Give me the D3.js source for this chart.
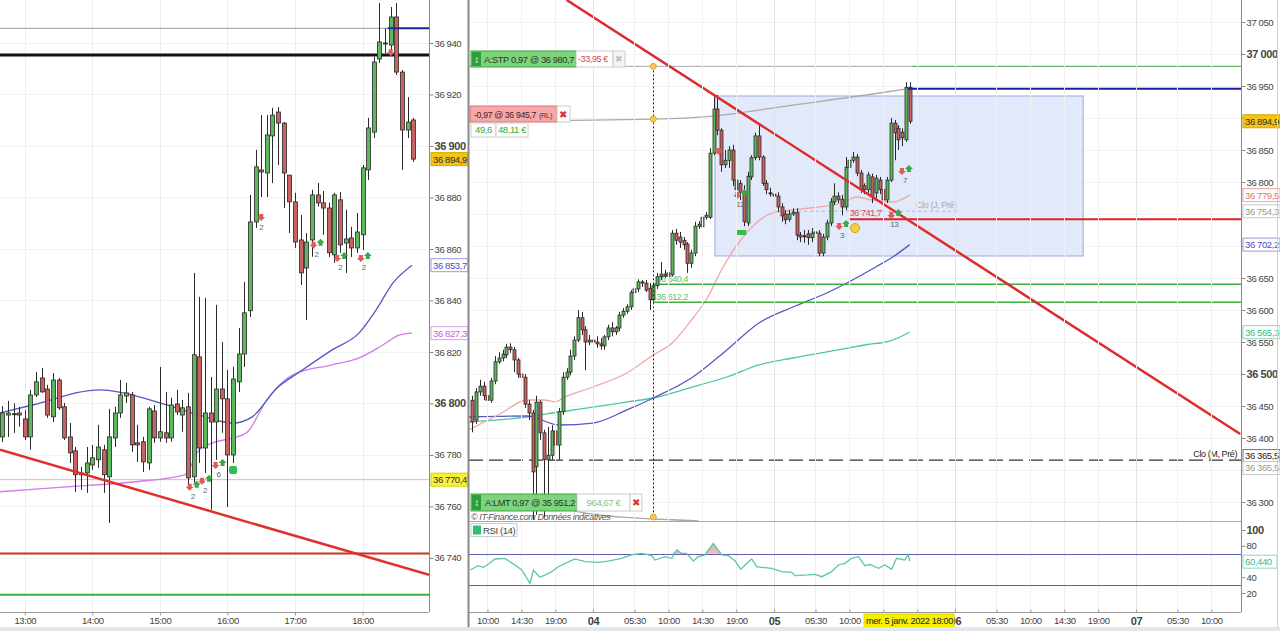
<!DOCTYPE html>
<html><head><meta charset="utf-8">
<script src="https://cdn.jsdelivr.net/npm/d3@7"></script>
<style>
body{margin:0;background:#fff;overflow:hidden;}
svg text{font-family:"Liberation Sans",Arial,sans-serif;letter-spacing:-0.4px;}
</style></head><body>
<svg id="c" width="1280" height="631"></svg>
<script>
// ---------------- LEFT PANEL DATA (5-min candles, 5 janv.) ----------------
const leftStart = "12:40";
const leftStepMin = 5;
const leftOpen  = [36787.0,36795.5,36796.0,36796.3,36794.0,36787.0,36803.3,36809.9,36805.6,36794.8,36809.1,36798.7,36787.0,36781.6,36773.0,36773.0,36776.1,36778.1,36782.0,36771.5,36786.6,36796.3,36802.9,36803.3,36784.7,36785.1,36776.9,36797.1,36786.6,36788.6,36786.6,36799.8,36795.5,36798.7,36771.5,36818.1,36782.7,36796.3,36792.8,36805.6,36801.8,36780.0,36808.4,36819.2,36836.0,36870.5,36890.7,36889.5,36903.9,36913.2,36908.9,36888.7,36878.3,36863.5,36852.6,36863.5,36881.0,36877.9,36875.9,36857.7,36879.1,36862.3,36864.3,36860.4,36865.5,36890.7,36905.4,36933.8,36940.0,36939.2,36950.1,36928.7,36906.2,36910.1];
const leftHigh  = [36799.0,36801.0,36800.0,36798.7,36797.5,36805.3,36812.2,36813.8,36807.2,36811.8,36809.9,36800.2,36792.4,36783.1,36775.4,36783.1,36783.9,36791.7,36783.9,36797.9,36798.7,36809.1,36808.0,36804.5,36791.7,36787.0,36798.7,36799.4,36814.2,36804.5,36802.2,36805.3,36801.4,36804.1,36850.7,36841.4,36841.0,36810.3,36838.3,36823.9,36813.0,36814.2,36829.3,36847.2,36881.0,36898.5,36912.0,36912.0,36914.8,36915.1,36909.3,36888.7,36881.8,36873.2,36866.2,36883.0,36885.6,36882.5,36877.9,36881.8,36882.1,36875.2,36868.6,36874.0,36892.6,36910.9,36934.6,36955.5,36945.8,36954.0,36955.5,36929.5,36919.0,36910.9];
const leftLow   = [36785.0,36787.0,36788.6,36791.0,36785.8,36782.0,36802.5,36804.1,36794.4,36792.8,36797.5,36785.8,36776.9,36765.6,36766.4,36765.3,36774.2,36775.0,36765.3,36753.6,36783.1,36794.4,36800.2,36781.2,36777.3,36773.4,36774.2,36784.7,36785.1,36784.7,36785.1,36795.5,36789.0,36767.6,36769.2,36776.9,36773.0,36758.7,36778.1,36788.6,36759.8,36776.9,36804.5,36814.2,36833.6,36868.2,36880.2,36880.2,36885.6,36892.6,36875.9,36866.2,36860.4,36846.0,36832.4,36857.0,36876.5,36865.5,36856.9,36854.6,36858.5,36850.7,36856.9,36858.5,36859.6,36886.8,36903.1,36932.2,36936.1,36935.3,36927.6,36890.7,36903.1,36893.8];
const leftClose = [36796.3,36796.3,36796.0,36795.5,36787.0,36803.3,36808.4,36804.5,36795.5,36809.1,36798.3,36786.6,36780.8,36772.3,36772.3,36776.9,36778.9,36783.1,36772.3,36787.0,36796.3,36803.3,36804.1,36783.9,36783.9,36777.3,36797.9,36786.6,36789.0,36786.6,36799.4,36796.7,36798.3,36771.1,36818.9,36782.7,36796.3,36792.8,36805.6,36801.8,36780.0,36809.5,36819.2,36835.2,36870.5,36891.9,36889.9,36904.3,36912.0,36908.9,36889.5,36878.3,36862.7,36850.7,36862.7,36881.0,36877.9,36875.9,36858.5,36881.0,36861.6,36863.9,36860.4,36866.6,36891.5,36907.0,36932.6,36940.4,36940.0,36950.1,36928.7,36906.2,36909.3,36894.9];
// moving averages (left)
const leftMaBlueT = ["12:38","13:07","14:07","14:27","15:06","15:35","16:05","16:22","16:44","17:04","17:33","17:57","18:12","18:27","18:44"];
const leftMaBlueV = [36796.3,36799.4,36805.3,36804.1,36799.4,36795.5,36792.4,36794.8,36806.0,36812.2,36820.8,36827.4,36836.3,36846.8,36853.7];
const leftMaVioT  = ["12:38","13:37","14:36","15:22","15:35","15:47","16:05","16:17","16:35","16:58","17:33","17:57","18:18","18:33","18:44"];
const leftMaVioV  = [36765.7,36767.6,36769.5,36772.3,36782.0,36784.7,36786.6,36788.6,36801.4,36811.1,36815.0,36817.7,36822.7,36826.6,36827.3];
const leftTicks = [36740,36760,36780,36800,36820,36840,36860,36880,36900,36920,36940];
const leftHours = ["13:00","14:00","15:00","16:00","17:00","18:00"];

// ---------------- RIGHT PANEL DATA (30-min candles, 3-5 janv.) ----------------
const rightStart = [2022,0,3,8,0];
const rightStepMin = 30;
const rOpen  = [36459,36428,36472,36481,36466,36459,36489,36519,36525,36530,36542,36538,36522,36500,36495,36453,36439,36355,36456,36408,36366,36373,36411,36389,36441,36495,36503,36528,36553,36588,36569,36550,36553,36550,36547,36544,36558,36572,36566,36572,36592,36598,36605,36627,36633,36644,36642,36634,36616,36638,36652,36656,36653,36655,36720,36714,36709,36703,36673,36689,36731,36730,36745,36745,36845,36914,36881,36827,36834,36850,36803,36798,36784,36736,36808,36838,36872,36839,36798,36783,36781,36778,36761,36750,36742,36750,36752,36717,36716,36719,36713,36720,36720,36689,36714,36736,36769,36778,36773,36761,36823,36834,36839,36814,36794,36788,36808,36783,36803,36788,36772,36803,36892,36884,36878,36866,36948];
const rHigh  = [36466,36478,36491,36488,36472,36494,36528,36534,36538,36547,36548,36542,36525,36505,36500,36459,36444,36466,36459,36413,36417,36420,36416,36447,36503,36509,36538,36559,36600,36597,36575,36561,36572,36559,36556,36561,36577,36581,36575,36597,36603,36609,36631,36636,36648,36647,36647,36642,36641,36658,36675,36663,36663,36725,36727,36722,36714,36706,36694,36738,36739,36750,36753,36853,36933,36936,36884,36850,36856,36858,36811,36803,36795,36816,36842,36877,36892,36842,36803,36791,36788,36784,36767,36756,36756,36759,36759,36722,36725,36725,36728,36728,36725,36719,36741,36775,36798,36784,36780,36839,36850,36847,36844,36819,36798,36816,36813,36811,36808,36794,36808,36900,36897,36889,36884,36956,36956];
const rLow   = [36409,36422,36466,36459,36413,36455,36484,36516,36520,36525,36533,36503,36494,36475,36447,36428,36272,36280,36397,36276,36305,36366,36378,36366,36436,36491,36498,36522,36550,36561,36506,36545,36544,36541,36538,36538,36553,36559,36561,36567,36588,36594,36600,36622,36628,36636,36628,36600,36613,36633,36647,36650,36648,36652,36702,36697,36694,36658,36666,36684,36727,36725,36741,36742,36842,36873,36816,36822,36822,36794,36772,36772,36731,36731,36803,36834,36834,36794,36781,36777,36772,36753,36738,36734,36738,36747,36709,36706,36705,36702,36706,36713,36684,36684,36709,36731,36764,36767,36748,36756,36819,36830,36809,36783,36781,36783,36767,36775,36781,36766,36767,36800,36834,36850,36856,36863,36891];
const rClose = [36425,36472,36481,36466,36459,36489,36519,36525,36531,36542,36538,36522,36500,36495,36453,36439,36347,36456,36408,36366,36373,36411,36389,36441,36495,36503,36528,36553,36588,36569,36550,36553,36550,36547,36544,36558,36572,36566,36572,36592,36598,36605,36627,36633,36644,36642,36631,36616,36638,36652,36656,36653,36658,36720,36709,36706,36702,36673,36689,36731,36734,36745,36748,36845,36914,36881,36827,36834,36850,36803,36788,36784,36738,36809,36838,36872,36839,36798,36788,36783,36778,36761,36747,36741,36750,36753,36717,36714,36716,36713,36720,36722,36689,36714,36736,36769,36778,36772,36761,36823,36834,36839,36814,36788,36788,36811,36777,36806,36788,36772,36803,36892,36877,36866,36869,36948,36894.9];
// moving averages (right), position in candle index units
const rMaPinkI = [-1,7.3,14.5,19,22,24,32,41,48,53,58.5,62,66.5,71.8,79.7,89.5,98,102,106,111.5,116];
const rMaPinkV = [36412.5,36437.5,36459.4,36459.4,36456.3,36462.5,36479.7,36501.6,36529.7,36548.4,36587.5,36615.6,36667.2,36714.1,36751.6,36759.4,36767.2,36776.6,36771.9,36768.8,36779.5];
const rMaBlueI = [-1,14.5,23,32,41,48,58.5,67.5,76,85,94,107,111.5,116];
const rMaBlueV = [36432.8,36434.4,36420.3,36423.4,36443.8,36462.5,36495.3,36537.5,36579.7,36604.7,36626.6,36667.2,36682.8,36702.2];
const rMaTealI = [-1,14.5,23,32,41,48,58.5,67.5,76,85,94,104,111.5,116];
const rMaTealV = [36425.0,36432.8,36440.6,36448.4,36456.3,36462.5,36479.7,36495.3,36514.1,36525.0,36534.4,36545.3,36553.1,36565.3];
const rGrayTopI = [-1,48.2,63.8,85,108,116.6];
const rGrayTopV = [36895.3,36898.4,36903.1,36920.3,36939.1,36946.9];
const rGrayLowI = [22,25.9,39,48.2,60];
const rGrayLowV = [36300,36287.5,36276.6,36273.4,36270.5];
// RSI(14)
const rsiI = [-0.6,1.6,2.9,4.2,6.0,8.6,11.3,13.1,15.3,16.2,17.9,19.3,21.0,22.8,24.6,27.2,29.9,33.4,36.0,39.6,42.2,44.9,47.6,48.4,51.1,52.9,54.2,55.5,56.8,58.6,59.9,61.7,63.9,65.2,66.1,67.9,69.7,71.2,72.8,74.1,75.4,77.6,79.4,82.0,84.7,85.6,89.1,90.9,92.7,95.3,97.1,98.8,100.6,102.4,104.1,105.5,107.7,109.4,111.2,112.5,114.7,115.6,116];
const rsiV = [49.2,54.7,52.6,56.4,63.2,64.0,55.6,49.2,32.3,49.2,39.9,42.9,47.1,53.4,57.7,63.2,59.8,58.9,60.6,64.0,68.3,70.4,67.4,61.9,66.1,64.0,74.6,70.4,70.4,60.6,66.1,68.3,83.1,74.6,68.3,67.4,60.6,50.1,57.7,63.2,53.4,52.2,51.3,47.1,46.2,42.0,42.9,43.7,40.7,47.1,55.6,57.7,64.0,66.1,54.7,56.4,51.3,55.6,50.1,64.0,61.9,69.1,60.44];
const rightTicks = [36300,36350,36400,36450,36500,36550,36600,36650,36700,36750,36800,36850,36900,36950,37000,37050];
const rightTicksHidden = [36350,36700,36750,36900];
const rsiTicks = [20,40,80,100];
// levels
const posPrice = 36945.7, stopPrice = 36980.7, limitPrice = 35951.2;
const supportBlack = 36935.3, entryRed = 36741.7, lineGreenL = 36725.7, lineSalmon = 36770.4;
const greenLvl1 = 36640.4, greenLvl2 = 36612.2, cloM = 36365.5, cloJ = 36754.3;

// ---------------- SETUP ----------------
const svg = d3.select('#c');
const loc = d3.formatLocale({decimal:",", thousands:" ", grouping:[3], currency:["","€"]});
const f0 = loc.format(",.0f");
const GREEN = '#5cb85c', RED = '#c9625f', EDGE = '#2a2a2a';
const FS = 9.5;

const tL = s => { const [h,m] = s.split(':').map(Number); return new Date(2022,0,5,h,m); };
const lStart = tL(leftStart);
const leftTimes = leftOpen.map((d,i) => new Date(+lStart + i*leftStepMin*60000));
const rS = new Date(...rightStart);
const tR = i => new Date(+rS + i*rightStepMin*60000);
const rightTimes = rOpen.map((d,i) => tR(i));

const xL = d3.scaleTime().domain([tL("12:38"), tL("18:59")]).range([0, 429]);
const yL = d3.scaleLinear().domain([36719.0, 36956.7]).range([612, 0]);
const xR = d3.scaleTime().domain([new Date(2022,0,3,7,30), new Date(2022,0,7,14,0)]).range([468.6, 1241.5]);
const yR = d3.scaleLinear().domain([36270.3, 37084.4]).range([521, 0]);
const yS = d3.scaleLinear().domain([0,100]).range([608.75, 530]);

const defs = svg.append('defs');
defs.append('clipPath').attr('id','clipL').append('rect').attr('x',0).attr('y',0).attr('width',429).attr('height',612);
defs.append('clipPath').attr('id','clipR').append('rect').attr('x',469).attr('y',0).attr('width',772).attr('height',521);
defs.append('clipPath').attr('id','clipS').append('rect').attr('x',469).attr('y',522).attr('width',772).attr('height',90);

function fit(t, maxW){
  const w = t.node().getComputedTextLength();
  if (w > maxW) t.attr('textLength', maxW).attr('lengthAdjust','spacingAndGlyphs');
  return t;
}
function hline(g, y, x1, x2, col, w, dash){
  const l = g.append('line').attr('x1',x1).attr('x2',x2).attr('y1',y).attr('y2',y).attr('stroke',col).attr('stroke-width',w);
  if (dash) l.attr('stroke-dasharray',dash);
  return l;
}
function candles(g, xs, ys, times, O,H,Lo,C, w){
  times.forEach((t,i)=>{
    const x = Math.round(xs(t)) + 0.5;
    g.append('line').attr('x1',x).attr('x2',x).attr('y1',ys(H[i])).attr('y2',ys(Lo[i])).attr('stroke',EDGE).attr('stroke-width',1);
    const top = ys(Math.max(O[i],C[i])), bot = ys(Math.min(O[i],C[i]));
    const col = C[i]>O[i] ? GREEN : (C[i]<O[i] ? RED : EDGE);
    g.append('rect').attr('x',x-w/2).attr('y',top).attr('width',w).attr('height',Math.max(1,bot-top))
      .attr('fill',col).attr('stroke',EDGE).attr('stroke-width',0.8);
  });
}
function box(g, x, yc, w, h, fill, stroke, txt, col, size, weight, anchor){
  g.append('rect').attr('x',x).attr('y',yc-h/2).attr('width',w).attr('height',h).attr('fill',fill).attr('stroke',stroke).attr('stroke-width',1);
  const s = size||FS;
  const t = g.append('text').attr('y',yc+ s*0.36).attr('fill',col).attr('font-size',s).attr('font-weight',weight||'normal').text(txt);
  if (anchor==='middle') t.attr('x',x+w/2).attr('text-anchor','middle'); else t.attr('x',x+2);
  fit(t, w-3);
  return t;
}
function arrowPair(g, x, y, num){
  g.append('path').attr('d',`M${x-6},${y-3}h4v3h2l-4,4l-4,-4h2z`).attr('fill','#e05a5a');
  g.append('path').attr('d',`M${x+1},${y+1}h4v-3h2l-4,-4l-4,4h2z`).attr('fill','#3aa845');
  if (num) g.append('text').attr('x',x-1).attr('y',y+12).attr('text-anchor','middle').attr('font-size',8).attr('fill','#666').text(num);
}
function redArrow(g, x, y){ g.append('path').attr('d',`M${x-2},${y-4}h4v3h2l-4,4l-4,-4h2z`).attr('fill','#e05a5a'); }
function styleY(gAx, boldTest){
  gAx.selectAll('.tick line').attr('stroke','#888');
  gAx.selectAll('.tick text').attr('x',5).attr('fill','#444')
    .attr('font-weight',d=>boldTest(d)?'bold':'normal').style('font-size',d=>boldTest(d)?'11px':FS+'px');
}

// ---------------- LEFT PANEL ----------------
const gL = svg.append('g');
const gLc = gL.append('g').attr('clip-path','url(#clipL)');
leftHours.forEach(h => gLc.append('line').attr('x1',Math.round(xL(tL(h)))+0.5).attr('x2',Math.round(xL(tL(h)))+0.5).attr('y1',0).attr('y2',612).attr('stroke','#eeeeee'));
leftTicks.forEach(v => hline(gLc, Math.round(yL(v))+0.5, 0, 429, '#f2f2f2', 1));
hline(gLc, yL(posPrice), 0, 429, '#999', 1);
hline(gLc, yL(lineSalmon), 0, 429, '#f3b0aa', 1);
hline(gLc, yL(supportBlack), 0, 429, '#111', 3);
hline(gLc, yL(entryRed), 0, 429, '#c8321e', 2);
hline(gLc, yL(lineGreenL), 0, 429, '#3cae3c', 2);
const lineL = d3.line().x(d=>d[0]).y(d=>d[1]).curve(d3.curveMonotoneX);
gLc.append('path').attr('d', lineL(leftMaVioT.map((t,i)=>[xL(tL(t)), yL(leftMaVioV[i])]))).attr('fill','none').attr('stroke','#d27ae8').attr('stroke-width',1.3);
gLc.append('path').attr('d', lineL(leftMaBlueT.map((t,i)=>[xL(tL(t)), yL(leftMaBlueV[i])]))).attr('fill','none').attr('stroke','#5656c8').attr('stroke-width',1.3);
candles(gLc, xL, yL, leftTimes, leftOpen, leftHigh, leftLow, leftClose, 4);
hline(gLc, yL(posPrice), xL(tL("18:25"))-3, 429, '#2323a8', 2);
gLc.append('line').attr('x1',xL(tL("12:38"))).attr('y1',yL(36782.0)).attr('x2',xL(tL("18:59"))).attr('y2',yL(36733.4)).attr('stroke','#e0302a').attr('stroke-width',2.5);
redArrow(gLc, xL(tL("16:30")), yL(36872.0)); gLc.append('text').attr('x',xL(tL("16:30"))).attr('y',yL(36872.0)+12).attr('text-anchor','middle').attr('font-size',8).attr('fill','#666').text('2');
arrowPair(gLc, xL(tL("17:20")), yL(36861.6), '2');
arrowPair(gLc, xL(tL("17:41")), yL(36856.5), '2');
arrowPair(gLc, xL(tL("18:02")), yL(36856.5), '2');
arrowPair(gLc, xL(tL("15:30")), yL(36767.6), '2');
arrowPair(gLc, xL(tL("15:41")), yL(36770.0), '2');
arrowPair(gLc, xL(tL("15:53")), yL(36776.1), '6');
gLc.append('rect').attr('x',xL(tL("16:05"))-4).attr('y',yL(36774.2)-4).attr('width',8).attr('height',8).attr('rx',2).attr('fill','#2fbf4f');
redArrow(gLc, xL(tL("18:25")), yL(36936));

const gAxL = gL.append('g').attr('transform','translate(429.5,0)').call(d3.axisRight(yL).tickValues(leftTicks).tickSize(4).tickFormat(f0));
gAxL.select('.domain').attr('stroke','#888').attr('d','M0,0V612');
styleY(gAxL, d=>d%100===0);
const gAxLB = gL.append('g').attr('transform','translate(0,612.5)').call(d3.axisBottom(xL).tickValues(leftHours.map(tL)).tickSize(3).tickFormat(d3.timeFormat('%H:%M')));
gAxLB.select('.domain').attr('stroke','#999').attr('d','M0,0H429');
gAxLB.selectAll('.tick line').attr('stroke','#999');
gAxLB.selectAll('.tick text').attr('fill','#444').style('font-size',FS+'px').attr('dy','0.55em');
box(gL, 431, yL(36894.9), 37, 13, '#f2c416', '#d9a800', '36 894,9', '#333');
box(gL, 431, yL(36853.7), 37, 13, '#fff', '#9a9ae0', '36 853,7', '#4a4ad0');
box(gL, 431, yL(36827.3), 37, 13, '#fff', '#dba0ee', '36 827,3', '#c060e0');
box(gL, 431, yL(36770.4), 37, 13, '#f6f23a', '#d8d000', '36 770,4', '#333');

// ---------------- RIGHT PANEL ----------------
const gR = svg.append('g');
const gRc = gR.append('g').attr('clip-path','url(#clipR)');
const xTicks = [];
for (let d=3; d<=7; d++) [[0,0],[5,30],[10,0],[14,30],[19,0]].forEach(([h,m])=>{
  const t = new Date(2022,0,d,h,m); if (t>=xR.domain()[0] && t<=xR.domain()[1]) xTicks.push(t); });
xTicks.forEach(t=>{ const x=Math.round(xR(t))+0.5;
  gR.append('line').attr('x1',x).attr('x2',x).attr('y1',0).attr('y2',612).attr('stroke', t.getHours()===0?'#e4e4e4':'#f0f0f0'); });
rightTicks.forEach(v => hline(gRc, Math.round(yR(v))+0.5, 469, 1241, '#f2f2f2', 1));
const zoneT0 = new Date(2022,0,4,16,10), zoneT1 = new Date(2022,0,6,17,0);
gRc.append('rect').attr('x',xR(zoneT0)).attr('y',yR(36934.4))
  .attr('width',xR(zoneT1)-xR(zoneT0)).attr('height',yR(36684.4)-yR(36934.4))
  .attr('fill','#e2e9fb').attr('stroke','#97acd9').attr('stroke-width',1);
hline(gRc, yR(stopPrice), 469, xR(tR(116.5)), '#a8a8a8', 1);
hline(gRc, yR(stopPrice), xR(tR(116.5)), 1241, '#4aa24a', 1);
hline(gRc, yR(cloM), 469, 1241, '#333', 1.3, '14,6');
hline(gRc, yR(cloJ), xR(new Date(2022,0,5,0,0)), xR(new Date(2022,0,6,0,30)), '#b8b8b8', 1, '3,3');
const lineR = d3.line().x(d=>d[0]).y(d=>d[1]).curve(d3.curveMonotoneX);
const pathR = (I,V,col) => gRc.append('path').attr('d', lineR(I.map((i,k)=>[xR(tR(i)), yR(V[k])]))).attr('fill','none').attr('stroke',col).attr('stroke-width',1.3);
pathR(rGrayTopI, rGrayTopV, '#aaa');
pathR(rGrayLowI, rGrayLowV, '#aaa');
pathR(rMaTealI, rMaTealV, '#4cc79e');
pathR(rMaBlueI, rMaBlueV, '#5858c4');
pathR(rMaPinkI, rMaPinkV, '#f2a8a4');
const tG = new Date(2022,0,4,8,0);
hline(gRc, yR(greenLvl1), xR(tG), 1241, '#3cae3c', 1.5);
hline(gRc, yR(greenLvl2), xR(tG), 1241, '#3cae3c', 1.5);
gRc.append('text').attr('x',xR(tG)+3).attr('y',yR(greenLvl1)-2).attr('font-size',9).attr('fill','#5cc45c').text('36 640,4');
gRc.append('text').attr('x',xR(tG)+3).attr('y',yR(greenLvl2)-2).attr('font-size',9).attr('fill','#5cc45c').text('36 612,2');
candles(gRc, xR, yR, rightTimes, rOpen, rHigh, rLow, rClose, 3);
hline(gRc, yR(posPrice), xR(tR(116))-2, 1241, '#1c1ca6', 2);
const tEntry = new Date(2022,0,5,9,55);
hline(gRc, yR(entryRed), xR(tEntry), 1241, '#dd2222', 2);
gRc.append('text').attr('x',xR(tEntry)+1).attr('y',yR(entryRed)-3).attr('font-size',9).attr('fill','#e04848').text('36 741,7');
gRc.append('line').attr('x1',xR(new Date(2022,0,3,20,30))).attr('y1',yR(37084.4)).attr('x2',xR(new Date(2022,0,7,13,50))).attr('y2',yR(36406.3)).attr('stroke','#df2a2a').attr('stroke-width',2.5);
gRc.append('line').attr('x1',Math.round(xR(tG))+0.5).attr('x2',Math.round(xR(tG))+0.5).attr('y1',yR(stopPrice)).attr('y2',517).attr('stroke','#222').attr('stroke-width',1).attr('stroke-dasharray','2,2');
[yR(stopPrice), yR(36898.4), 517].forEach(y=> gRc.append('circle').attr('cx',xR(tG)).attr('cy',y).attr('r',3).attr('fill','#f6c85a').attr('stroke','#e0a830'));
gRc.append('text').attr('x',xR(new Date(2022,0,5,18,50))).attr('y',yR(cloJ)-3).attr('font-size',9).attr('fill','#aaa').text('Clo (J, Pré)');
gRc.append('text').attr('x',1237).attr('y',yR(cloM)-3).attr('text-anchor','end').attr('font-size',9).attr('fill','#222').text('Clo (M, Pré)');
redArrow(gRc, xR(new Date(2022,0,4,16,40)), yR(36847));
arrowPair(gRc, xR(new Date(2022,0,4,19,40)), yR(36779.7), '12');
gRc.append('rect').attr('x',xR(new Date(2022,0,4,19,40))-5).attr('y',yR(36721.9)-2).attr('width',10).attr('height',5).attr('fill','#2fbf4f');
arrowPair(gRc, xR(new Date(2022,0,5,9,10)), yR(36731.3), '3');
gRc.append('circle').attr('cx',xR(new Date(2022,0,5,10,45))).attr('cy',yR(36728)).attr('r',4.5).attr('fill','#f4d03f').attr('stroke','#d4a017');
arrowPair(gRc, xR(new Date(2022,0,5,16,5)), yR(36748.4), '13');
arrowPair(gRc, xR(new Date(2022,0,5,17,30)), yR(36817.2), '7');

// order boxes
const gB = gR.append('g');
gB.append('rect').attr('x',471).attr('y',51).attr('width',105).attr('height',16).attr('fill','#7fd37f').attr('stroke','#3aa83a');
gB.append('rect').attr('x',472).attr('y',52).attr('width',9).attr('height',14).attr('fill','#2f9e3a');
gB.append('text').attr('x',476.5).attr('y',63).attr('text-anchor','middle').attr('font-size',10).attr('fill','#fff').text('↕');
fit(gB.append('text').attr('x',484).attr('y',63).attr('font-size',FS).attr('fill','#1d3d1d').text('A:STP  0,97 @ 36 980,7'), 90);
box(gB, 576, 59, 37, 16, '#fff', '#ccc', '-33,95 €', '#d04848', 9);
box(gB, 613, 59, 12, 16, '#f4f4f4', '#ccc', '✖', '#bbb', 9);
gB.append('rect').attr('x',470).attr('y',106).attr('width',87).attr('height',16).attr('fill','#f6a8a8').attr('stroke','#e07070');
fit(gB.append('text').attr('x',474).attr('y',118).attr('font-size',FS).attr('fill','#4a1a1a').text('-0,97 @ 36 945,7'), 62);
gB.append('text').attr('x',539).attr('y',118).attr('font-size',7.5).attr('fill','#6a2a2a').text('(RL)');
box(gB, 557, 114, 13, 16, '#fff', '#ccc', '✖', '#e03030', 10);
box(gB, 471, 130, 25, 14, '#fff', '#ccc', '49,6', '#3aa83a', FS, 'normal', 'middle');
box(gB, 496, 130, 32, 14, '#fff', '#ccc', '48,11 €', '#3aa83a', FS, 'normal', 'middle');
gB.append('rect').attr('x',471).attr('y',494).attr('width',106).attr('height',17).attr('fill','#7fd37f').attr('stroke','#3aa83a');
gB.append('rect').attr('x',472).attr('y',495).attr('width',9).attr('height',15).attr('fill','#2f9e3a');
gB.append('text').attr('x',476.5).attr('y',506).attr('text-anchor','middle').attr('font-size',10).attr('fill','#fff').text('↕');
fit(gB.append('text').attr('x',485).attr('y',506).attr('font-size',FS).attr('fill','#1d3d1d').text('A:LMT  0,97 @ 35 951,2'), 90);
box(gB, 577, 502.5, 53, 17, '#fff', '#ccc', '964,67 €', '#7fbf7f', FS, 'normal', 'middle');
box(gB, 630, 502.5, 12, 17, '#fff', '#ccc', '✖', '#e03030', 10);
gB.append('text').attr('x',471).attr('y',520).attr('font-size',9).attr('font-style','italic').attr('fill','#555').text('© IT-Finance.com  Données indicatives');

hline(gR, 521.5, 469, 1241, '#a8a8a8', 1);
gR.append('line').attr('x1',468.5).attr('x2',468.5).attr('y1',0).attr('y2',631).attr('stroke','#8a8a8a').attr('stroke-width',2);

// RSI
const gS = gR.append('g').attr('clip-path','url(#clipS)');
const rsiPts = rsiI.map((i,k)=>[xR(tR(i)), rsiV[k]]);
gS.append('path').attr('d', d3.area().x(d=>d[0]).y0(yS(70)).y1(d=>yS(Math.max(70,d[1])))(rsiPts)).attr('fill','#e3bcbc');
hline(gS, Math.round(yS(70))+0.5, 469, 1241, '#6060b0', 1.2);
hline(gS, Math.round(yS(30))+0.5, 469, 1241, '#6060b0', 1.2);
gS.append('path').attr('d', d3.line().x(d=>d[0]).y(d=>yS(d[1]))(rsiPts)).attr('fill','none').attr('stroke','#5cc7a0').attr('stroke-width',1.3);
gR.append('rect').attr('x',471).attr('y',523.5).attr('width',46).attr('height',13).attr('fill','#fff').attr('stroke','#ccc');
gR.append('rect').attr('x',473).attr('y',525.5).attr('width',8).attr('height',9).attr('fill','#2fbf6f');
gR.append('text').attr('x',483).attr('y',534).attr('font-size',FS).attr('fill','#444').text('RSI (14)');

// right axes
const gAxR = gR.append('g').attr('transform','translate(1241.5,0)').call(d3.axisRight(yR).tickValues(rightTicks).tickSize(4)
  .tickFormat(d => rightTicksHidden.includes(d) ? '' : f0(d)));
gAxR.select('.domain').attr('stroke','#888').attr('d','M0,0V612');
styleY(gAxR, d=>d%500===0);
const gAxS = gR.append('g').attr('transform','translate(1241.5,0)').call(d3.axisRight(yS).tickValues(rsiTicks).tickSize(4).tickFormat(d3.format('d')));
gAxS.select('.domain').remove();
styleY(gAxS, d=>d===100);
const hiddenX = t => t > new Date(2022,0,5,12,0) && t < new Date(2022,0,5,23,0);
const gAxRB = gR.append('g').attr('transform','translate(0,612.5)').call(d3.axisBottom(xR).tickValues(xTicks).tickSize(3)
  .tickFormat(d=> hiddenX(d) ? '' : (d.getHours()===0&&d.getMinutes()===0 ? d3.timeFormat('%d')(d) : d3.timeFormat('%H:%M')(d))));
gAxRB.select('.domain').attr('stroke','#999').attr('d','M469,0H1241');
gAxRB.selectAll('.tick line').attr('stroke','#999').attr('y2',-3);
gAxRB.selectAll('.tick text').attr('fill','#444').attr('dy','0.55em')
  .attr('font-weight',d=>d.getHours()===0?'bold':'normal').style('font-size',d=>d.getHours()===0?'11px':FS+'px');
box(gR, 1243, yR(36894.9), 37, 13, '#f2c416', '#d9a800', '36 894,9', '#333');
box(gR, 1243, yR(36779.5), 37, 13, '#fff', '#eaa6a6', '36 779,5', '#e07070');
box(gR, 1243, yR(36754.3), 37, 13, '#fff', '#c8c8c8', '36 754,3', '#9a9a9a');
box(gR, 1243, yR(36702.2), 37, 13, '#fff', '#9a9ae0', '36 702,2', '#4a4ad0');
box(gR, 1243, yR(36565.3), 37, 13, '#fff', '#8fd8b8', '36 565,3', '#3cb88a');
box(gR, 1243, yR(cloM)-4, 37, 13, '#fff', '#777', '36 365,5', '#222');
box(gR, 1243, yR(cloM)+8, 37, 13, '#fff', '#c8c8c8', '36 365,5', '#9a9a9a');
box(gR, 1243, yS(60.44)+0.5, 34, 13, '#fff', '#8fd8b8', '60,440', '#3cb88a');
box(gR, 864, 621, 90, 14, '#f7ef00', '#e0d800', 'mer. 5 janv. 2022 18:00', '#222');
svg.append('rect').attr('x',0).attr('y',627).attr('width',1280).attr('height',4).attr('fill','#e2e7ee');
svg.append('line').attr('x1',1277.5).attr('x2',1277.5).attr('y1',0).attr('y2',627).attr('stroke','#d0d0d0');
</script>
</body></html>
